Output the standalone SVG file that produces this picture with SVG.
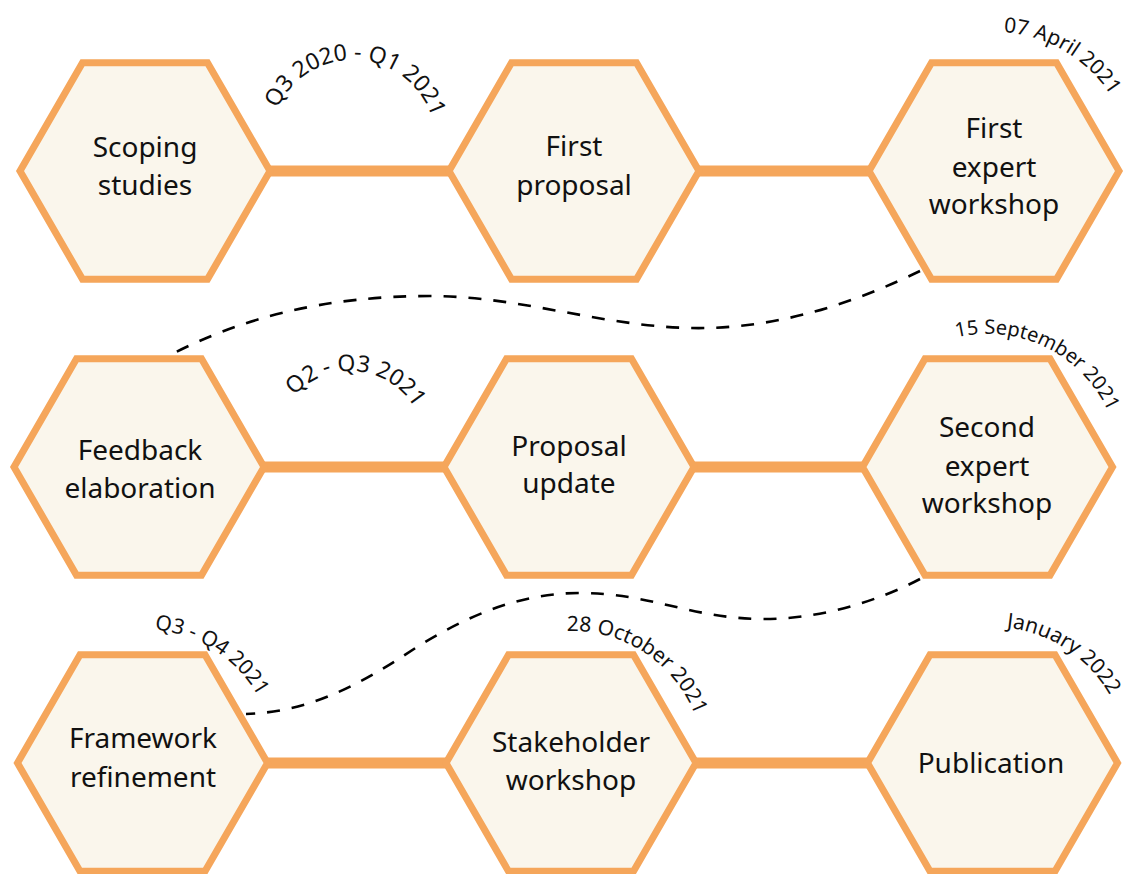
<svg xmlns="http://www.w3.org/2000/svg" width="1128" height="874" viewBox="0 0 1128 874">
  <defs>
    <style>
      .hex { fill: #FAF6EC; stroke: #F5A65B; stroke-width: 7; stroke-linejoin: miter; }
      .bar { stroke: #F5A65B; stroke-width: 11; fill: none; }
      .dash { stroke: #000; stroke-width: 2.6; fill: none; stroke-dasharray: 13 12; }
      .lbl { font-family: "Noto Sans", "DejaVu Sans", sans-serif; font-size: 28px; fill: #111; text-anchor: middle; }
      .arc { font-family: "Noto Sans", "DejaVu Sans", sans-serif; fill: #111; text-anchor: middle; }
      .arcM { font-size: 23px; }
      .arcC { font-size: 21px; }
      .arcS { font-size: 20px; }
    </style>
    <polygon id="hexShape" points="-125,0 -62.5,-108.25 62.5,-108.25 125,0 62.5,108.25 -62.5,108.25"/>
    <path id="pA" d="M 272.1 124.3 A 83 83 0 0 1 435.4 132.9"/>
    <path id="pB" d="M 277.8 425.8 A 75 75 0 0 1 424.8 440.2"/>
    <path id="pC" d="M 888.3 80.7 A 139 139 0 0 1 1124.2 219.7"/>
    <path id="pD" d="M 879.4 388.8 A 133 133 0 0 1 1114.9 503.7"/>
    <path id="pE" d="M 892.7 670.1 A 136 136 0 0 1 1117.1 816.4"/>
    <path id="pF" d="M 475.8 672.6 A 132 132 0 0 1 693.3 815.0"/>
    <path id="pG" d="M 43.5 672.1 A 134 134 0 0 1 265.6 814.7"/>
  </defs>
  <rect width="1128" height="874" fill="#fff"/>

  <g id="connectors">
    <line class="bar" x1="270" y1="171" x2="449" y2="171"/>
    <line class="bar" x1="699" y1="171" x2="869" y2="171"/>
    <line class="bar" x1="264" y1="467" x2="444" y2="467"/>
    <line class="bar" x1="694" y1="467" x2="862" y2="467"/>
    <line class="bar" x1="267" y1="763" x2="446" y2="763"/>
    <line class="bar" x1="696" y1="763" x2="867" y2="763"/>
  </g>

  <g id="n1"><use href="#hexShape" class="hex" x="145" y="171"/>
    <text class="lbl" x="145" y="157">Scoping</text><text class="lbl" x="145" y="195">studies</text></g>
  <g id="n2"><use href="#hexShape" class="hex" x="574" y="171"/>
    <text class="lbl" x="574" y="156">First</text><text class="lbl" x="574" y="195">proposal</text></g>
  <g id="n3"><use href="#hexShape" class="hex" x="994" y="171"/>
    <text class="lbl" x="994" y="138">First</text><text class="lbl" x="994" y="177">expert</text><text class="lbl" x="994" y="214">workshop</text></g>
  <g id="n4"><use href="#hexShape" class="hex" x="139" y="467"/>
    <text class="lbl" x="140" y="460">Feedback</text><text class="lbl" x="140" y="498">elaboration</text></g>
  <g id="n5"><use href="#hexShape" class="hex" x="569" y="467"/>
    <text class="lbl" x="569" y="456">Proposal</text><text class="lbl" x="569" y="493">update</text></g>
  <g id="n6"><use href="#hexShape" class="hex" x="987.5" y="467"/>
    <text class="lbl" x="987" y="437">Second</text><text class="lbl" x="987" y="476">expert</text><text class="lbl" x="987" y="513">workshop</text></g>
  <g id="n7"><use href="#hexShape" class="hex" x="142.5" y="763"/>
    <text class="lbl" x="143" y="748">Framework</text><text class="lbl" x="143" y="787">refinement</text></g>
  <g id="n8"><use href="#hexShape" class="hex" x="571" y="763"/>
    <text class="lbl" x="571" y="752">Stakeholder</text><text class="lbl" x="571" y="790">workshop</text></g>
  <g id="n9"><use href="#hexShape" class="hex" x="992.5" y="763"/>
    <text class="lbl" x="991" y="773">Publication</text></g>

  <g id="dashed">
    <path class="dash" d="M 920 271 C 860 300, 780 330, 690 328 C 600 326, 520 296, 430 296 C 320 296, 240 320, 176 352"/>
    <path class="dash" d="M 920 579 C 880 600, 820 620, 760 619 C 690 618, 650 593, 580 593 C 520 593, 470 615, 420 645 C 360 685, 310 712, 246 714"/>
  </g>

  <g id="dates">
    <text class="arc arcM"><textPath href="#pA" startOffset="50%">Q3 2020 - Q1 2021</textPath></text>
    <text class="arc arcM"><textPath href="#pB" startOffset="50%">Q2 - Q3 2021</textPath></text>
    <text class="arc arcC"><textPath href="#pC" startOffset="50%">07 April 2021</textPath></text>
    <text class="arc arcS"><textPath href="#pD" startOffset="50%">15 September 2021</textPath></text>
    <text class="arc arcC"><textPath href="#pE" startOffset="50%">January 2022</textPath></text>
    <text class="arc arcC"><textPath href="#pF" startOffset="50%">28 October 2021</textPath></text>
    <text class="arc arcC"><textPath href="#pG" startOffset="50%">Q3 - Q4 2021</textPath></text>
  </g>
</svg>
